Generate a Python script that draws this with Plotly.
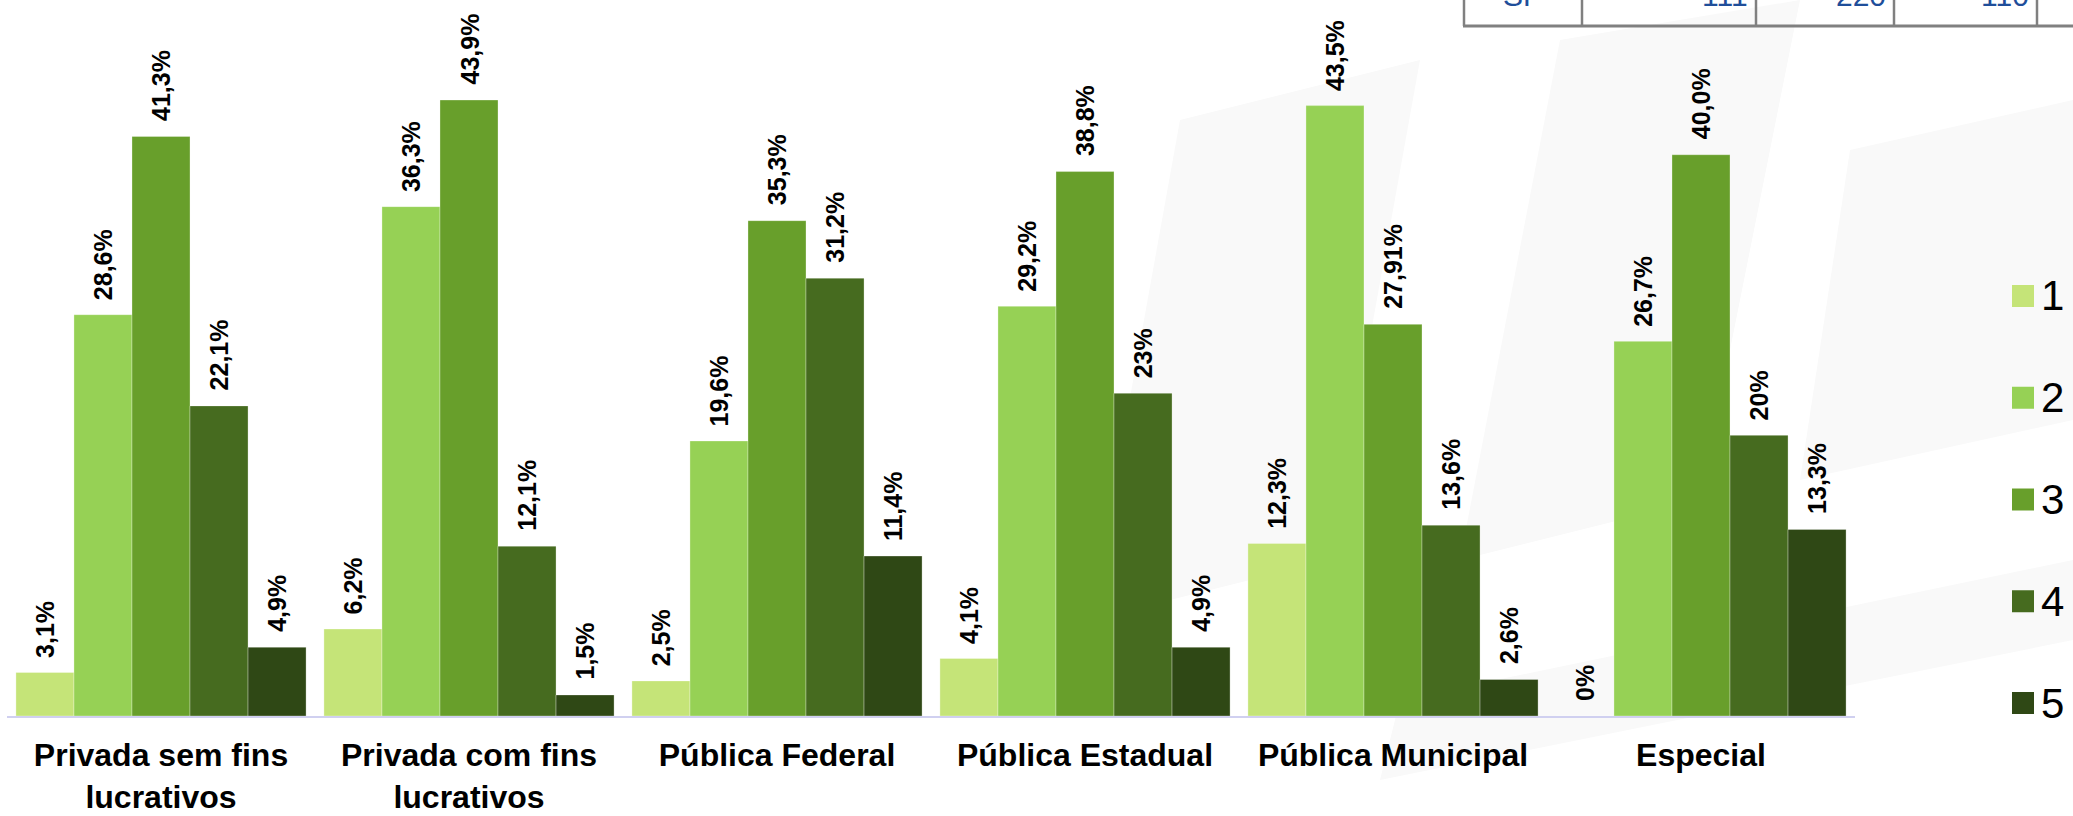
import plotly.graph_objects as go

# Categories (institution types) and the five rating levels
categories = ["Privada sem fins<br>lucrativos", "Privada com fins<br>lucrativos",
              "Pública Federal", "Pública Estadual", "Pública Municipal", "Especial"]
series_names = ["1", "2", "3", "4", "5"]

# Percentages per rating level, one value per category
values_1 = [3.1, 6.2, 2.5, 4.1, 12.3, 0.0]
values_2 = [28.6, 36.3, 19.6, 29.2, 43.5, 26.7]
values_3 = [41.3, 43.9, 35.3, 38.8, 27.91, 40.0]
values_4 = [22.1, 12.1, 31.2, 23.0, 13.6, 20.0]
values_5 = [4.9, 1.5, 11.4, 4.9, 2.6, 13.3]

# Data labels as printed above each bar
labels_1 = ["3,1%", "6,2%", "2,5%", "4,1%", "12,3%", "0%"]
labels_2 = ["28,6%", "36,3%", "19,6%", "29,2%", "43,5%", "26,7%"]
labels_3 = ["41,3%", "43,9%", "35,3%", "38,8%", "27,91%", "40,0%"]
labels_4 = ["22,1%", "12,1%", "31,2%", "23%", "13,6%", "20%"]
labels_5 = ["4,9%", "1,5%", "11,4%", "4,9%", "2,6%", "13,3%"]

# Partial summary table at the top edge
table_cells = ["SP", "111", "220", "110"]

colors = ["#C5E478", "#96D155", "#689F2B", "#466B1F", "#2F4815"]
all_values = [values_1, values_2, values_3, values_4, values_5]
all_labels = [labels_1, labels_2, labels_3, labels_4, labels_5]

W, H = 2073, 816
ML, MR, MT, MB = 7, 218, 13, 100
PW, PH = W - ML - MR, H - MT - MB
BARGAP = 0.058
Y_MAX = 50.1
FONT = "Liberation Sans, Arial"


def px_x(X):
    return (X - ML) / PW


def px_y(Y):
    return (H - MB - Y) / PH


xs = list(range(len(categories)))
fig = go.Figure()
for name, vals, col in zip(series_names, all_values, colors):
    fig.add_trace(go.Bar(
        x=xs, y=vals, name=name, marker_color=col,
        marker_line=dict(width=0.6, color="rgba(255,255,255,0.5)"),
        showlegend=False,
    ))

shapes = []
# Faint slanted watermark bands in the background
watermark = [
    [(1180, 120), (1420, 60), (1330, 560), (1090, 620)],
    [(1560, 40), (1800, 0), (1700, 500), (1460, 560)],
    [(1850, 150), (2073, 100), (2073, 420), (1800, 480)],
    [(1400, 700), (2073, 560), (2073, 640), (1380, 780)],
]
for poly in watermark:
    path = "M " + " L ".join(f"{px_x(a)},{px_y(b)}" for a, b in poly) + " Z"
    shapes.append(dict(type="path", xref="paper", yref="paper", path=path,
                       fillcolor="#F9F9F9", line=dict(width=0), layer="below"))

# Rotated value labels above each bar
bar_w = (1 - BARGAP) / len(series_names)
annotations = []
for j, (vals, labs) in enumerate(zip(all_values, all_labels)):
    for i, (v, t) in enumerate(zip(vals, labs)):
        annotations.append(dict(
            x=i + (j - 2) * bar_w, y=v, xref="x", yref="y",
            text=t, textangle=-90, showarrow=False,
            xanchor="center", yanchor="bottom", yshift=13,
            font=dict(family=FONT, size=25, color="#000000", weight="bold"),
        ))

# Hand-drawn legend: square swatch + label
leg_y0, leg_step = 296, 101.75
for k, (name, col) in enumerate(zip(series_names, colors)):
    cy = leg_y0 + k * leg_step
    shapes.append(dict(type="rect", xref="paper", yref="paper",
                       x0=px_x(2012), x1=px_x(2034), y0=px_y(cy + 11), y1=px_y(cy - 11),
                       fillcolor=col, line=dict(width=0)))
    annotations.append(dict(x=px_x(2039), y=px_y(cy), xref="paper", yref="paper",
                            text=name, showarrow=False, xanchor="left", yanchor="middle",
                            font=dict(family=FONT, size=42, color="#000000")))

# Table fragment along the top edge
grid_x = [1464, 1582, 1756, 1894, 2037, 2080]
shapes.append(dict(type="line", xref="paper", yref="paper",
                   x0=px_x(1463), x1=px_x(2080), y0=px_y(26), y1=px_y(26),
                   line=dict(color="#808080", width=3)))
for gx in grid_x[:-1]:
    shapes.append(dict(type="line", xref="paper", yref="paper",
                       x0=px_x(gx), x1=px_x(gx), y0=px_y(-5), y1=px_y(26),
                       line=dict(color="#808080", width=2.5)))
for c, txt in enumerate(table_cells):
    if c == 0:
        ax, anc = (grid_x[0] + grid_x[1]) / 2, "center"
    else:
        ax, anc = grid_x[c + 1] - 6, "right"
    annotations.append(dict(x=px_x(ax), y=px_y(14), xref="paper", yref="paper",
                            text=txt, showarrow=False, xanchor=anc, yanchor="bottom",
                            font=dict(family=FONT, size=30, color="#1F4E9A")))

fig.update_layout(
    width=W, height=H,
    margin=dict(l=ML, r=MR, t=MT, b=MB),
    barmode="group", bargap=BARGAP, bargroupgap=0,
    paper_bgcolor="#FFFFFF", plot_bgcolor="rgba(0,0,0,0)",
    showlegend=False,
    annotations=annotations, shapes=shapes,
    xaxis=dict(tickmode="array", tickvals=xs, ticktext=categories, range=[-0.5, 5.5],
               showgrid=False, zeroline=False, showline=True, linecolor="#D0D0F0", linewidth=2,
               ticks="", ticklabelstandoff=10, automargin=False,
               tickfont=dict(family=FONT, size=32, color="#000000", weight="bold")),
    yaxis=dict(range=[0, Y_MAX], visible=False, showgrid=False, zeroline=False, automargin=False),
)

fig.write_html("out.html")
